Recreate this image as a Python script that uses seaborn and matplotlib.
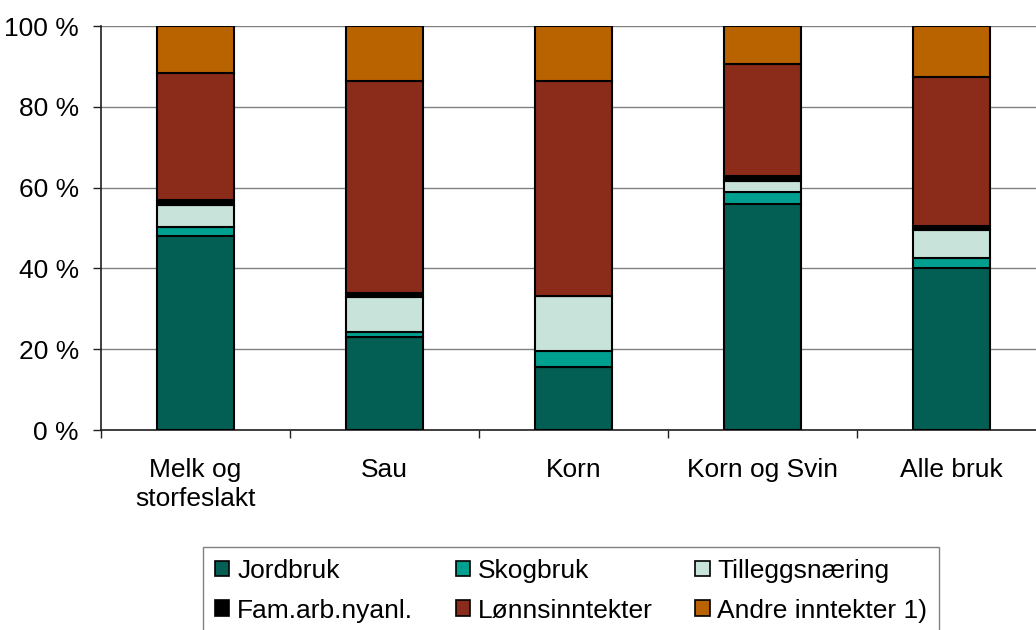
import pandas as pd
import numpy as np
import seaborn as sns
import matplotlib.pyplot as plt
from matplotlib.patches import Patch

# categories and income shares (percent)
categories = ['Melk og\nstorfeslakt', 'Sau', 'Korn', 'Korn og Svin', 'Alle bruk']
jordbruk = [48.0, 22.9, 15.6, 55.9, 40.0]
skogbruk = [2.3, 1.4, 3.9, 2.9, 2.6]
tillegg = [5.5, 8.5, 13.7, 2.8, 6.9]
fam_arb = [1.2, 1.1, 0.0, 1.3, 1.1]
lonn = [31.4, 52.4, 53.1, 27.8, 36.7]
andre = [11.6, 13.7, 13.7, 9.3, 12.7]

series_names = ['Jordbruk', 'Skogbruk', 'Tilleggsnæring',
                'Fam.arb.nyanl.', 'Lønnsinntekter', 'Andre inntekter 1)']
colors = ['#035E53', '#00A091', '#C8E3D9', '#000000', '#8B2C1B', '#B86300']

df = pd.DataFrame({'kategori': categories, 'Jordbruk': jordbruk, 'Skogbruk': skogbruk,
                   'Tilleggsnæring': tillegg, 'Fam.arb.nyanl.': fam_arb,
                   'Lønnsinntekter': lonn, 'Andre inntekter 1)': andre})

sns.set_style('white')
plt.rcParams['font.family'] = ['Liberation Sans', 'DejaVu Sans']
plt.rcParams['font.size'] = 19
plt.rcParams['text.color'] = 'black'
plt.rcParams['xtick.color'] = 'black'
plt.rcParams['ytick.color'] = 'black'

fig = plt.figure(figsize=(10.36, 6.30), dpi=100)
ax = fig.add_axes([101 / 1036, 1 - 430 / 630, 945 / 1036, 404 / 630])

bottom = np.zeros(len(categories))
for name, col in zip(series_names, colors):
    sns.barplot(data=df, x='kategori', y=name, bottom=bottom, color=col,
                width=0.41, edgecolor='black', linewidth=1.5, ax=ax,
                saturation=1, zorder=3)
    bottom = bottom + df[name].values

ax.set_xlim(-0.5, len(categories) - 0.5)
ax.set_ylim(0, 100)
ax.set_yticks(range(0, 101, 20))
ax.set_yticklabels([f'{v} %' for v in range(0, 101, 20)])
for lab in ax.get_xticklabels():
    lab.set_linespacing(1.3)
ax.set_xlabel('')
ax.set_ylabel('')
ax.yaxis.grid(True, color='#808080', linewidth=1, zorder=0)
ax.set_axisbelow(True)

for s in ['top', 'right']:
    ax.spines[s].set_visible(False)
for s in ['left', 'bottom']:
    ax.spines[s].set_color('#231F20')
    ax.spines[s].set_linewidth(1.2)

ax.tick_params(axis='y', length=6, width=1, color='#231F20', pad=10, left=True)
ax.tick_params(axis='x', which='major', length=0, pad=20)
ax.set_xticks(np.arange(-0.5, len(categories), 1), minor=True)
ax.tick_params(axis='x', which='minor', length=6, width=1, color='#231F20', bottom=True)

handles = [Patch(facecolor=c, edgecolor='black', linewidth=1.2, label=n)
           for n, c in zip(series_names, colors)]
order = [0, 3, 1, 4, 2, 5]
fig.legend([handles[i] for i in order], [series_names[i] for i in order],
           ncol=3, loc='upper left', bbox_to_anchor=(203 / 1036, 1 - 547 / 630),
           frameon=True, fancybox=False, edgecolor='#808080', framealpha=1,
           handlelength=0.55, handleheight=0.55, handletextpad=0.3,
           columnspacing=1.6, borderpad=0.45, labelspacing=0.6, borderaxespad=0)

fig.savefig('out.png', dpi=100)
